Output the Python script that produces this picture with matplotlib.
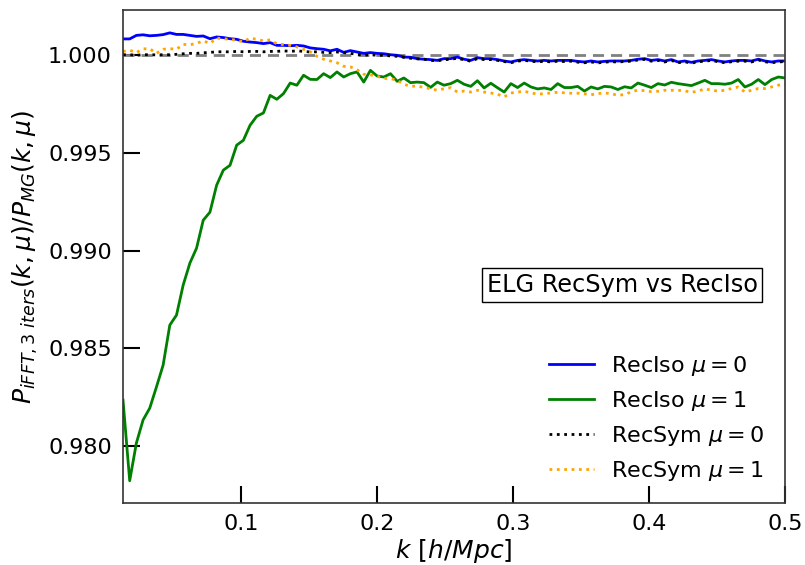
import numpy as np
import matplotlib
matplotlib.use("Agg")
import matplotlib.pyplot as plt
from matplotlib.ticker import FormatStrFormatter

k = np.linspace(0.0132, 0.5, 100)

reciso_mu0 = [
    1.00084, 1.00084, 1.00102, 1.00105, 1.00100, 1.00102, 1.00106, 1.00115, 1.00107, 1.00107,
    1.00102, 1.00097, 1.00099, 1.00085, 1.00094, 1.00091, 1.00085, 1.00082, 1.00072, 1.00068,
    1.00065, 1.00060, 1.00065, 1.00051, 1.00051, 1.00049, 1.00051, 1.00048, 1.00038, 1.00034,
    1.00031, 1.00023, 1.00031, 1.00015, 1.00024, 1.00017, 1.00010, 1.00014, 1.00010, 1.00008,
    1.00003, 1.00000, 0.99991, 0.99990, 0.99983, 0.99980, 0.99978, 0.99974, 0.99983, 0.99983,
    0.99991, 0.99980, 0.99974, 0.99988, 0.99983, 0.99983, 0.99978, 0.99971, 0.99966, 0.99974,
    0.99978, 0.99974, 0.99971, 0.99974, 0.99971, 0.99974, 0.99974, 0.99974, 0.99969, 0.99966,
    0.99971, 0.99966, 0.99969, 0.99971, 0.99971, 0.99971, 0.99974, 0.99980, 0.99983, 0.99974,
    0.99978, 0.99971, 0.99978, 0.99966, 0.99971, 0.99964, 0.99971, 0.99974, 0.99978, 0.99971,
    0.99966, 0.99971, 0.99974, 0.99974, 0.99971, 0.99980, 0.99971, 0.99966, 0.99971, 0.99971,
]

reciso_mu1 = [
    0.98235, 0.97822, 0.98015, 0.98133, 0.98194, 0.98302, 0.98414, 0.98619, 0.98670, 0.98824,
    0.98936, 0.99013, 0.99156, 0.99197, 0.99335, 0.99412, 0.99437, 0.99540, 0.99565, 0.99642,
    0.99688, 0.99705, 0.99795, 0.99775, 0.99804, 0.99858, 0.99847, 0.99898, 0.99877, 0.99876,
    0.99906, 0.99886, 0.99915, 0.99889, 0.99906, 0.99915, 0.99863, 0.99923, 0.99894, 0.99889,
    0.99906, 0.99867, 0.99884, 0.99860, 0.99863, 0.99860, 0.99836, 0.99863, 0.99847, 0.99855,
    0.99872, 0.99852, 0.99841, 0.99870, 0.99833, 0.99857, 0.99834, 0.99812, 0.99855, 0.99835,
    0.99858, 0.99838, 0.99828, 0.99833, 0.99825, 0.99855, 0.99835, 0.99835, 0.99841, 0.99817,
    0.99838, 0.99828, 0.99841, 0.99838, 0.99825, 0.99839, 0.99833, 0.99858, 0.99847, 0.99835,
    0.99855, 0.99848, 0.99862, 0.99855, 0.99850, 0.99845, 0.99858, 0.99872, 0.99855, 0.99855,
    0.99852, 0.99858, 0.99876, 0.99838, 0.99852, 0.99876, 0.99850, 0.99876, 0.99889, 0.99884,
]

recsym_mu0 = [
    1.00003, 1.00003, 1.00000, 1.00003, 1.00003, 1.00002, 1.00003, 1.00003, 1.00005, 1.00008,
    1.00010, 1.00010, 1.00013, 1.00015, 1.00018, 1.00018, 1.00018, 1.00020, 1.00018, 1.00020,
    1.00020, 1.00018, 1.00020, 1.00020, 1.00023, 1.00020, 1.00023, 1.00020, 1.00017, 1.00018,
    1.00015, 1.00014, 1.00017, 1.00014, 1.00010, 1.00005, 1.00000, 1.00003, 1.00000, 1.00000,
    0.99997, 0.99995, 0.99990, 0.99985, 0.99982, 0.99980, 0.99974, 0.99972, 0.99977, 0.99980,
    0.99985, 0.99977, 0.99970, 0.99983, 0.99978, 0.99978, 0.99974, 0.99968, 0.99962, 0.99970,
    0.99974, 0.99970, 0.99966, 0.99970, 0.99966, 0.99970, 0.99968, 0.99970, 0.99965, 0.99962,
    0.99966, 0.99961, 0.99965, 0.99967, 0.99966, 0.99968, 0.99970, 0.99976, 0.99979, 0.99970,
    0.99974, 0.99966, 0.99974, 0.99962, 0.99967, 0.99960, 0.99967, 0.99970, 0.99974, 0.99967,
    0.99962, 0.99967, 0.99970, 0.99970, 0.99966, 0.99976, 0.99967, 0.99962, 0.99966, 0.99968,
]

recsym_mu1 = [
    1.00020, 1.00026, 1.00014, 1.00033, 1.00034, 1.00010, 1.00031, 1.00034, 1.00031, 1.00056,
    1.00054, 1.00061, 1.00074, 1.00061, 1.00088, 1.00085, 1.00082, 1.00077, 1.00069, 1.00088,
    1.00082, 1.00074, 1.00079, 1.00059, 1.00055, 1.00051, 1.00043, 1.00031, 1.00018, 0.99995,
    0.99980, 0.99971, 0.99962, 0.99944, 0.99941, 0.99926, 0.99903, 0.99900, 0.99893, 0.99882,
    0.99881, 0.99872, 0.99852, 0.99841, 0.99843, 0.99835, 0.99829, 0.99821, 0.99829, 0.99834,
    0.99812, 0.99817, 0.99812, 0.99821, 0.99812, 0.99807, 0.99801, 0.99787, 0.99807, 0.99812,
    0.99816, 0.99808, 0.99801, 0.99804, 0.99807, 0.99811, 0.99808, 0.99806, 0.99806, 0.99803,
    0.99798, 0.99804, 0.99807, 0.99804, 0.99795, 0.99799, 0.99813, 0.99822, 0.99819, 0.99814,
    0.99816, 0.99821, 0.99821, 0.99821, 0.99818, 0.99811, 0.99816, 0.99829, 0.99821, 0.99817,
    0.99821, 0.99830, 0.99838, 0.99812, 0.99821, 0.99830, 0.99830, 0.99838, 0.99847, 0.99855,
]

xticks = [0.1, 0.2, 0.3, 0.4, 0.5]
yticks = [0.980, 0.985, 0.990, 0.995, 1.000]

fig = plt.figure(figsize=(8.05, 5.65), dpi=100)
ax = fig.add_axes([0.1528, 0.1097, 0.8224, 0.8726])

ax.axhline(1.0, color="gray", ls="--", lw=2, dashes=(4, 2.5))
ax.plot(k, reciso_mu0, color="blue", lw=2, label=r"RecIso $\mu = 0$")
ax.plot(k, reciso_mu1, color="green", lw=2, label=r"RecIso $\mu = 1$")
ax.plot(k, recsym_mu0, color="black", lw=2, ls=":", label=r"RecSym $\mu = 0$")
ax.plot(k, recsym_mu1, color="orange", lw=2, ls=":", label=r"RecSym $\mu = 1$")

ax.set_xlim(0.0132, 0.5)
ax.set_ylim(0.97708, 1.00232)
ax.set_xticks(xticks)
ax.set_yticks(yticks)
ax.yaxis.set_major_formatter(FormatStrFormatter("%.3f"))
ax.xaxis.set_major_formatter(FormatStrFormatter("%.1f"))
ax.tick_params(direction="in", length=12, width=1.5, labelsize=16, pad=8)
for s in ax.spines.values():
    s.set_linewidth(1.2)
    s.set_color("#333333")

ax.set_xlabel(r"$k\ [h/Mpc]$", fontsize=18, labelpad=2)
ax.set_ylabel(r"$P_{iFFT,3\ iters}(k,\mu)/P_{MG}(k,\mu)$", fontsize=18, labelpad=6)

ax.text(0.754, 0.442, "ELG RecSym vs RecIso", transform=ax.transAxes, fontsize=17.3,
        ha="center", va="center",
        bbox=dict(facecolor="white", edgecolor="black", boxstyle="square,pad=0.2"))

ax.legend(loc="lower right", frameon=False, fontsize=16)

fig.savefig("out.png", dpi=100)
